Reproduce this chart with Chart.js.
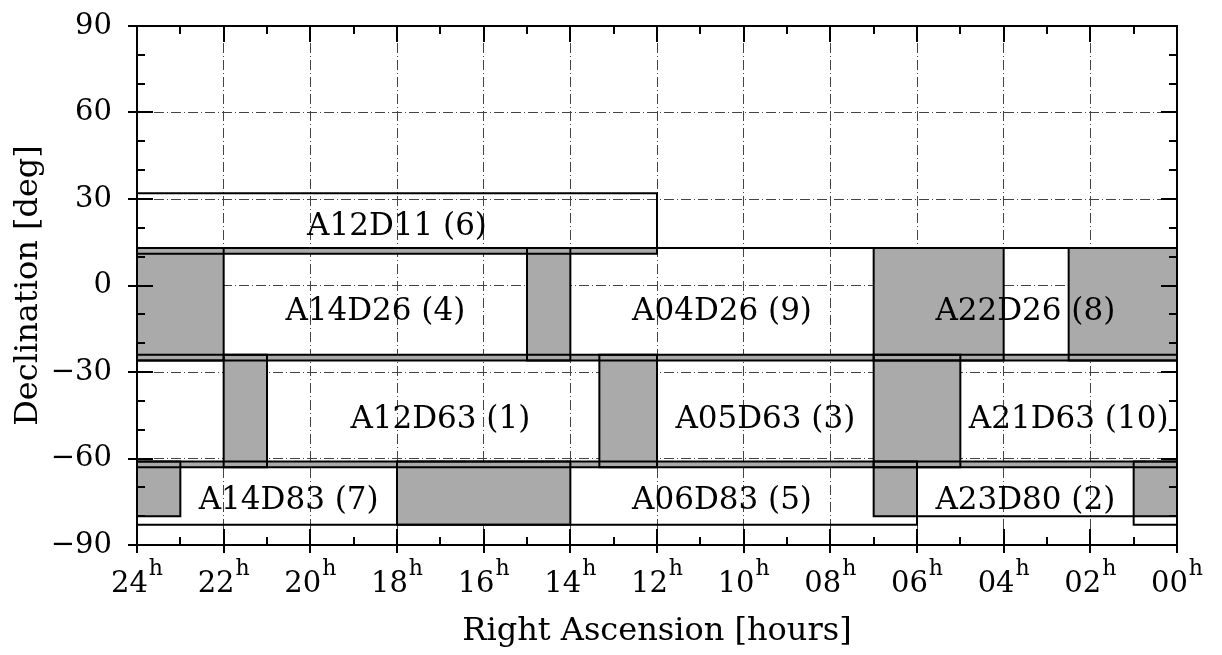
<!DOCTYPE html>
<html><head><meta charset="utf-8">
<script src="https://cdn.jsdelivr.net/npm/chart.js@4.4.1/dist/chart.umd.min.js"></script>
<style>html,body{margin:0;padding:0;background:#fff;}canvas{display:block;}</style>
</head><body>
<canvas id="c" width="1222" height="655"></canvas>
<script>
// ---- Data (RA in hours, Dec in degrees); RA max > 24 means the field wraps past 0h ----
const fieldNames  = ['A12D11 (6)','A14D26 (4)','A04D26 (9)','A22D26 (8)','A12D63 (1)','A05D63 (3)','A21D63 (10)','A14D83 (7)','A06D83 (5)','A23D80 (2)'];
const fieldRaMin  = [12, 14, 4, 22, 12, 5, 21, 14, 6, 23];
const fieldRaMax  = [24, 26.5, 15, 31, 22, 13.33, 31, 25, 18, 31];
const fieldDecMin = [11, -26, -26, -26, -63, -63, -63, -83, -83, -80];
const fieldDecMax = [32, 13, 13, 13, -24, -24, -24, -61, -61, -61];
const labelRA     = [18, 18.5, 10.5, 3.5, 17, 9.5, 2.5, 20.5, 10.5, 3.5];
const labelDec    = [21.3, -8, -8, -8, -45.5, -45.5, -45.5, -73.5, -73.5, -73.5];

// overlap (grey) regions
const overlapRaMin  = [12, 22, 14, 4, 0, 0, 21, 12, 5, 0, 23, 14, 6, 0];
const overlapRaMax  = [24, 24, 15, 7, 2.5, 24, 22, 13.33, 7, 24, 24, 18, 7, 1];
const overlapDecMin = [11, -26, -26, -26, -26, -26, -63, -63, -63, -63, -80, -83, -80, -80];
const overlapDecMax = [13, 13, 13, 13, 13, -24, -24, -24, -24, -61, -61, -61, -61, -61];

// tick labels
const raTickLabels  = ['00','02','04','06','08','10','12','14','16','18','20','22','24'];
const raTickUnit    = 'h';
const decTickLabels = {'90':'90','60':'60','30':'30','0':'0','-30':'\u221230','-60':'\u221260','-90':'\u221290'};

const SERIF = '"DejaVu Serif", "Liberation Serif", serif';
const TICK_SIZE = 29, SUP_SIZE = 22;

function segments(a, b) {
  if (b > 24) return [[a, 24], [0, b - 24]];
  return [[a, b]];
}

const datasets = [];
fieldNames.forEach((name, i) => {
  segments(fieldRaMin[i], fieldRaMax[i]).forEach(([a, b]) => {
    const d0 = fieldDecMin[i], d1 = fieldDecMax[i];
    datasets.push({
      label: name,
      data: [{x:a,y:d0},{x:b,y:d0},{x:b,y:d1},{x:a,y:d1},{x:a,y:d0}],
      borderColor: '#000', borderWidth: 2, pointRadius: 0, fill: false,
      borderJoinStyle: 'miter', borderCapStyle: 'square', tension: 0, order: 0
    });
  });
});
overlapRaMin.forEach((a, i) => {
  const b = overlapRaMax[i];
  datasets.push({
    label: 'overlap ' + (i + 1),
    data: [{x:a,y:overlapDecMax[i]},{x:b,y:overlapDecMax[i]}],
    borderColor: 'rgba(0,0,0,0)', borderWidth: 0, pointRadius: 0,
    backgroundColor: '#aaaaaa', fill: {value: overlapDecMin[i]}, tension: 0, order: 1
  });
});

const labelPlugin = {
  id: 'fieldLabels',
  afterDatasetsDraw(chart) {
    const {ctx, scales: {x, y}} = chart;
    const size = 31;
    ctx.save();
    ctx.font = size + 'px ' + SERIF;
    ctx.fillStyle = '#000';
    ctx.textAlign = 'center';
    ctx.textBaseline = 'alphabetic';
    fieldNames.forEach((n, i) => {
      ctx.fillText(n, x.getPixelForValue(labelRA[i]), y.getPixelForValue(labelDec[i]) + 0.3645 * size);
    });
    ctx.restore();
  }
};

const framePlugin = {
  id: 'frame',
  afterDraw(chart) {
    const {ctx, chartArea: {left, right, top, bottom}, scales: {x, y}} = chart;
    ctx.save();
    ctx.strokeStyle = '#000';
    ctx.lineWidth = 2;
    ctx.lineCap = 'butt';
    ctx.beginPath();
    for (let v = -90; v <= 90; v += 10) {
      const p = Math.round(y.getPixelForValue(v));
      if (v % 30 === 0) {
        ctx.moveTo(left - 9, p); ctx.lineTo(left + 16, p);
        ctx.moveTo(right - 16, p); ctx.lineTo(right, p);
      } else {
        ctx.moveTo(left, p); ctx.lineTo(left + 8, p);
        ctx.moveTo(right - 8, p); ctx.lineTo(right, p);
      }
    }
    for (let h = 0; h <= 24; h += 1) {
      const p = Math.round(x.getPixelForValue(h));
      if (h % 2 === 0) {
        ctx.moveTo(p, bottom + 8); ctx.lineTo(p, bottom - 16);
        ctx.moveTo(p, top); ctx.lineTo(p, top + 16);
      } else {
        ctx.moveTo(p, bottom); ctx.lineTo(p, bottom - 8);
        ctx.moveTo(p, top); ctx.lineTo(p, top + 8);
      }
    }
    ctx.stroke();
    ctx.strokeRect(left, top, right - left, bottom - top);

    // RA tick labels: hours with superscript unit
    ctx.fillStyle = '#000';
    ctx.textAlign = 'left';
    ctx.textBaseline = 'alphabetic';
    x.ticks.forEach(t => {
      const lab = raTickLabels[Math.round(t.value / 2)];
      ctx.font = TICK_SIZE + 'px ' + SERIF;
      const wd = ctx.measureText(lab).width;
      ctx.font = SUP_SIZE + 'px ' + SERIF;
      const wh = ctx.measureText(raTickUnit).width;
      const px = x.getPixelForValue(t.value);
      const x0 = px - (wd + 1 + wh) / 2;
      ctx.font = TICK_SIZE + 'px ' + SERIF;
      ctx.fillText(lab, x0, bottom + 47);
      ctx.font = SUP_SIZE + 'px ' + SERIF;
      ctx.fillText(raTickUnit, x0 + wd + 1, bottom + 30);
    });
    ctx.restore();
  }
};

new Chart(document.getElementById('c'), {
  type: 'line',
  data: { datasets },
  options: {
    responsive: false,
    animation: false,
    events: [],
    devicePixelRatio: 1,
    layout: { padding: { top: 26, right: 45, bottom: 0, left: 0 } },
    plugins: { legend: { display: false }, tooltip: { enabled: false } },
    scales: {
      x: {
        type: 'linear', min: 0, max: 24, reverse: true,
        afterFit(s) { s.height = 110; s.paddingLeft = 0; s.paddingRight = 0; },
        ticks: { stepSize: 2, autoSkip: false, maxRotation: 0, display: false },
        grid: { color: '#444', lineWidth: 1, drawTicks: false },
        border: { display: false, dash: [10, 3, 1, 3] },
        title: { display: true, text: 'Right Ascension [hours]', color: '#000',
                 font: { family: SERIF, size: 32 }, padding: { top: 0, bottom: 4 } }
      },
      y: {
        type: 'linear', min: -90, max: 90,
        afterFit(s) { s.width = 137; },
        ticks: {
          stepSize: 30, padding: 25, color: '#000',
          font: { family: SERIF, size: TICK_SIZE, lineHeight: '2px' },
          callback: v => decTickLabels[String(v)]
        },
        grid: { color: '#444', lineWidth: 1, drawTicks: false },
        border: { display: false, dash: [10, 3, 1, 3] },
        title: { display: true, text: 'Declination [deg]', color: '#000',
                 font: { family: SERIF, size: 32 }, padding: { top: 9, bottom: 0 } }
      }
    }
  },
  plugins: [labelPlugin, framePlugin]
});
</script>
</body></html>
